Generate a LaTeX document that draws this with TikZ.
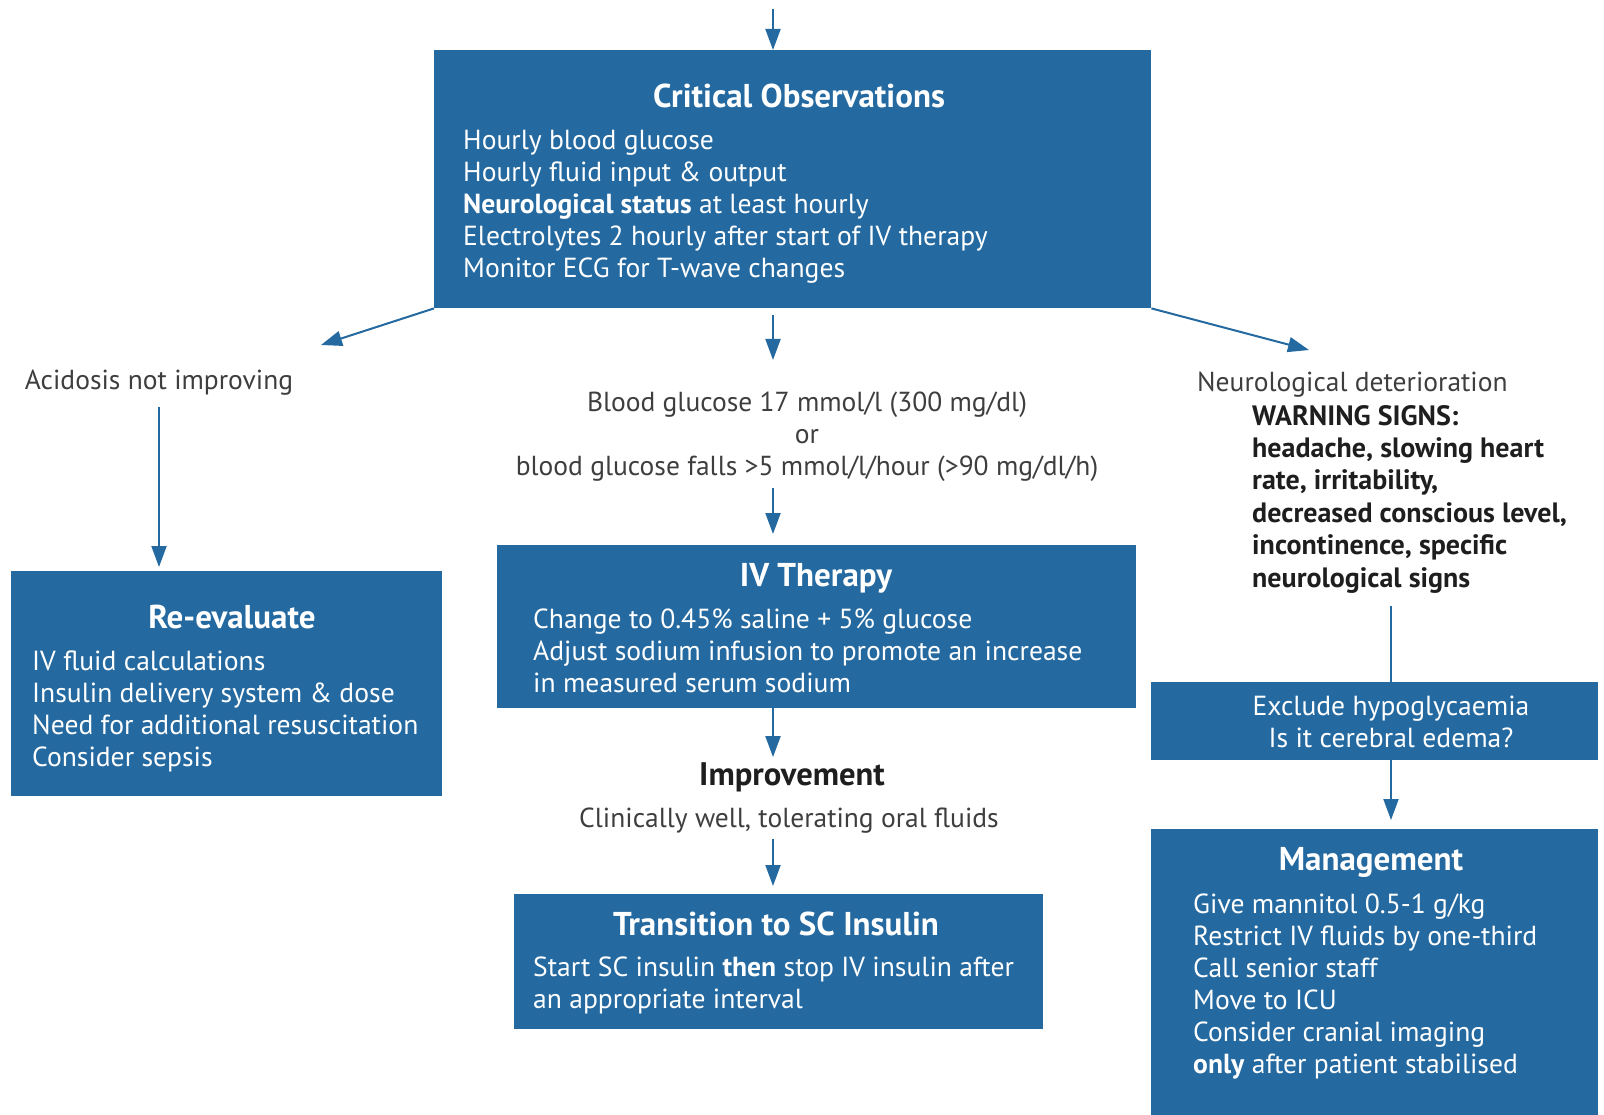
\documentclass[tikz,border=0pt]{standalone}
\usepackage{fontspec}
\setmainfont{PT Sans}
\usetikzlibrary{arrows.meta, positioning}
\definecolor{dkablue}{RGB}{36,105,160}
\definecolor{notegrey}{RGB}{62,62,62}
\definecolor{warngrey}{RGB}{30,30,30}

\begin{document}
\begin{tikzpicture}[
        x=1pt, y=-1pt,
        box/.style={fill=dkablue, inner sep=0pt, anchor=north west},
        boxtitle/.style={text=white, inner sep=0pt, font=\fontsize{33}{38}\selectfont\bfseries},
        boxtext/.style={text=white, inner sep=0pt, anchor=north west, align=left, font=\fontsize{27.6}{32}\selectfont},
        note/.style={text=notegrey, inner sep=0pt, align=center, font=\fontsize{27.5}{32}\selectfont},
        arr/.style={draw=dkablue, line width=2pt, -{Triangle[length=21pt,width=15pt]}},
        link/.style={draw=dkablue, line width=2pt}
    ]
        \useasboundingbox (0,0) rectangle (1604,1115);

        % boxes
        \node[box, minimum width=717pt, minimum height=258pt] (crit) at (434,50) {};
        \node[box, minimum width=431pt, minimum height=225pt] (reeval) at (11,571) {};
        \node[box, minimum width=639pt, minimum height=163pt] (iv) at (497,545) {};
        \node[box, minimum width=529pt, minimum height=135pt] (trans) at (514,894) {};
        \node[box, minimum width=447pt, minimum height=78pt] (excl) at (1151,682) {};
        \node[box, minimum width=447pt, minimum height=290pt] (mgmt) at (1151,829) {};

        % box texts
        \node[boxtitle] (crittitle) at (799,96) {Critical Observations};
        \node[boxtext] (critbody) at (463,130) {Hourly blood glucose\\
            Hourly fluid input \& output\\
            \textbf{Neurological status} at least hourly\\
            Electrolytes 2 hourly after start of IV therapy\\
            Monitor ECG for T-wave changes};
        \node[boxtitle] (reevaltitle) at (232,617) {Re-evaluate};
        \node[boxtext] (reevalbody) at (32,651) {IV fluid calculations\\
            Insulin delivery system \& dose\\
            Need for additional resuscitation\\
            Consider sepsis};
        \node[boxtitle] (ivtitle) at (816,578) {IV Therapy};
        \node[boxtext] (ivbody) at (533,609) {Change to 0.45\% saline + 5\% glucose\\
            Adjust sodium infusion to promote an increase\\
            in measured serum sodium};
        \node[boxtitle] (transtitle) at (776,924) {Transition to SC Insulin};
        \node[boxtext] (transbody) at (533,957) {Start SC insulin \textbf{then} stop IV insulin after\\
            an appropriate interval};
        \node[boxtext, anchor=north, align=center] (excltext) at (1391,696) {Exclude hypoglycaemia\\
            Is it cerebral edema?};
        \node[boxtitle] (mgmttitle) at (1371,862) {Management};
        \node[boxtext] (mgmtbody) at (1193,894) {Give mannitol 0.5-1 g/kg\\
            Restrict IV fluids by one-third\\
            Call senior staff\\
            Move to ICU\\
            Consider cranial imaging\\
            \textbf{only} after patient stabilised};

        % free texts
        \node[note] (acid) at (159,383) {Acidosis not improving};
        \node[note, anchor=north] (bg) at (807,392) {Blood glucose 17 mmol/l (300 mg/dl)\\
            or\\
            blood glucose falls >5 mmol/l/hour (>90 mg/dl/h)};
        \node[note, anchor=west] (neuro) at (1197,385) {Neurological deterioration};
        \node[note, anchor=north west, align=left, text=warngrey,
            font=\fontsize{28}{32.4}\selectfont\bfseries] (warn) at (1252,405) {WARNING SIGNS:\\
            headache, slowing heart\\
            rate, irritability,\\
            decreased conscious level,\\
            incontinence, specific\\
            neurological signs};
        \node[note, text=warngrey, font=\fontsize{32.6}{38}\selectfont\bfseries] (impr) at (792,777) {Improvement};
        \node[note] (clin) at (789,821) {Clinically well, tolerating oral fluids};

        % connectors
        \coordinate (feed) at (773,9);
        \coordinate (acidtip) at (321,345);
        \coordinate (neurotip) at (1309,350);
        \draw[arr] (feed) -- (feed |- crit.north);
        \draw[arr, shorten <=7pt, shorten >=32pt] (crit.south -| feed) -- (bg.north -| feed);
        \draw[arr] (crit.south west) -- (acidtip);
        \draw[arr] (crit.south east) -- (neurotip);
        \draw[arr, shorten <=11pt, shorten >=4pt] (acid.south) -- (acid.south |- reeval.north);
        \draw[arr, shorten <=6pt, shorten >=11pt] (bg.south -| feed) -- (iv.north -| feed);
        \draw[arr, shorten >=5pt] (iv.south -| feed) -- (impr.north -| feed);
        \draw[arr, shorten <=5pt, shorten >=8pt] (clin.south -| feed) -- (trans.north -| feed);
        \draw[link, shorten <=13pt] (warn.south -| excltext) -- (excltext |- excl.north);
        \draw[arr, shorten >=9pt] (excltext |- excl.south) -- (excltext |- mgmt.north);
    \end{tikzpicture}
\end{document}
